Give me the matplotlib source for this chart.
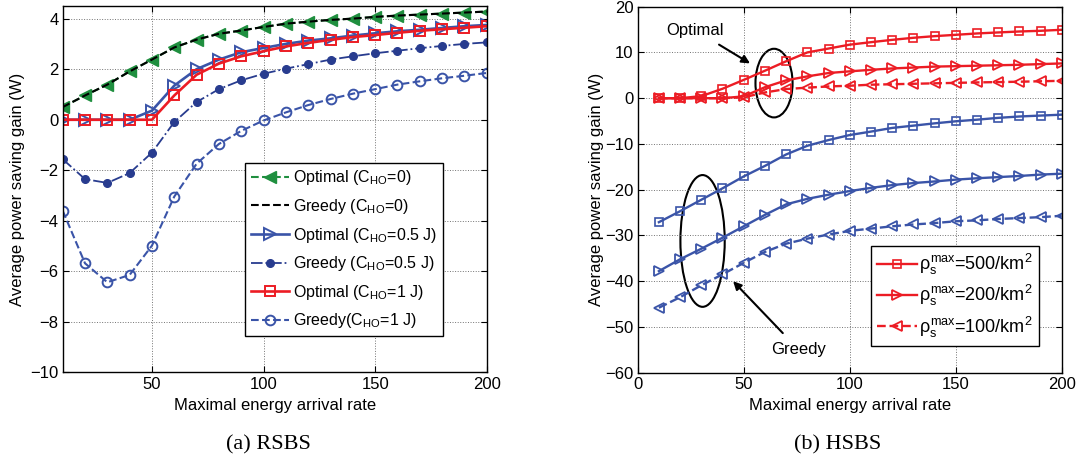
import matplotlib
matplotlib.use("Agg")
import matplotlib.pyplot as plt
from matplotlib.patches import Ellipse
import numpy as np

plt.rcParams["font.family"] = ["Liberation Sans", "DejaVu Sans"]
plt.rcParams["font.size"] = 12
plt.rcParams["mathtext.fontset"] = "custom"
plt.rcParams["mathtext.rm"] = "Liberation Sans"
plt.rcParams["mathtext.it"] = "Liberation Sans"
plt.rcParams["mathtext.bf"] = "Liberation Sans:bold"

x = np.arange(10, 201, 10)

# (a) RSBS
opt_c0 = [0.5, 0.96, 1.39, 1.91, 2.38, 2.86, 3.17, 3.4, 3.53, 3.67,
          3.8, 3.88, 3.95, 4.0, 4.07, 4.12, 4.16, 4.2, 4.24, 4.28]
greedy_c0 = opt_c0
opt_c05 = [0, 0, 0, 0, 0.36, 1.35, 2.0, 2.38, 2.67, 2.84,
           3.0, 3.13, 3.22, 3.33, 3.42, 3.5, 3.56, 3.63, 3.7, 3.75]
greedy_c05 = [-1.56, -2.35, -2.5, -2.11, -1.3, -0.09, 0.7, 1.21, 1.56, 1.82,
              2.02, 2.2, 2.38, 2.51, 2.63, 2.73, 2.83, 2.92, 3.0, 3.06]
opt_c1 = [0, 0, 0, 0, 0, 0.96, 1.78, 2.22, 2.51, 2.71,
          2.9, 3.04, 3.16, 3.27, 3.35, 3.44, 3.52, 3.58, 3.64, 3.7]
greedy_c1 = [-3.6, -5.68, -6.43, -6.14, -4.98, -3.04, -1.74, -0.96, -0.44, -0.03,
             0.29, 0.58, 0.82, 1.03, 1.21, 1.39, 1.52, 1.64, 1.74, 1.85]

# (b) HSBS
opt_500 = [0, 0, 0.45, 2.06, 4.0, 6.0, 8.07, 10.0, 10.85, 11.7,
           12.24, 12.75, 13.2, 13.56, 13.85, 14.15, 14.37, 14.58, 14.73, 14.95]
opt_200 = [0, 0, 0, 0, 0.4, 2.4, 3.9, 4.77, 5.5, 5.87,
           6.2, 6.5, 6.7, 6.9, 7.0, 7.1, 7.2, 7.3, 7.45, 7.6]
opt_100 = [0, 0, 0, 0, 0.2, 1.25, 2.0, 2.3, 2.57, 2.72,
           2.95, 3.05, 3.15, 3.25, 3.35, 3.45, 3.52, 3.6, 3.7, 3.8]
gr_500 = [-27.1, -24.7, -22.2, -19.7, -17.1, -14.8, -12.3, -10.4, -9.15, -8.05,
          -7.3, -6.5, -6.0, -5.5, -5.05, -4.7, -4.3, -4.0, -3.8, -3.6]
gr_200 = [-37.8, -35.2, -32.9, -30.5, -28.0, -25.5, -23.2, -22.0, -21.1, -20.3,
          -19.6, -19.0, -18.55, -18.2, -17.8, -17.5, -17.25, -17.0, -16.7, -16.5]
gr_100 = [-45.8, -43.5, -40.9, -38.5, -36.0, -33.6, -31.8, -30.7, -29.8, -29.0,
          -28.5, -28.0, -27.6, -27.3, -26.9, -26.7, -26.4, -26.2, -26.0, -25.7]

GREEN = "#1f8f3f"
BLUE = "#3a54a8"
DBLUE = "#283c8f"
RED = "#ec1c24"


def style(ax, ylab_x):
    ax.grid(True, linestyle=":", color="0.45", linewidth=0.7)
    ax.tick_params(direction="in", top=True, right=True, length=4, labelsize=12, pad=3)
    for s in ax.spines.values():
        s.set_linewidth(1.0)
    ax.set_xlabel("Maximal energy arrival rate", fontsize=12)
    ax.set_ylabel("Average power saving gain (W)", fontsize=12)
    ax.xaxis.set_label_coords(0.5, -0.07)
    ax.yaxis.set_label_coords(ylab_x, 0.5)


fig = plt.figure(figsize=(10.79, 4.61), dpi=100)
ax1 = fig.add_axes([0.0581, 0.192, 0.393, 0.795])
ax2 = fig.add_axes([0.591, 0.1915, 0.393, 0.794])

ax1.plot(x, opt_c0, "--", color=GREEN, marker="<", ms=8, mfc=GREEN, mec=GREEN,
         lw=1.5, label=r"Optimal (C$_{\mathrm{HO}}$=0)")
ax1.plot(x, greedy_c0, "--", color="k", lw=1.5, label=r"Greedy (C$_{\mathrm{HO}}$=0)")
ax1.plot(x, opt_c05, "-", color=BLUE, marker=">", ms=8, mfc="none", mec=BLUE,
         mew=1.4, lw=1.9, label=r"Optimal (C$_{\mathrm{HO}}$=0.5 J)")
ax1.plot(x, greedy_c05, "-.", color=DBLUE, marker="o", ms=5.5, mfc=DBLUE, mec=DBLUE,
         lw=1.3, label=r"Greedy (C$_{\mathrm{HO}}$=0.5 J)")
ax1.plot(x, opt_c1, "-", color=RED, marker="s", ms=6.5, mfc="none", mec=RED,
         mew=1.4, lw=1.9, label=r"Optimal (C$_{\mathrm{HO}}$=1 J)")
ax1.plot(x, greedy_c1, "--", color=BLUE, marker="o", ms=7, mfc="none", mec=BLUE,
         mew=1.4, lw=1.5, label=r"Greedy(C$_{\mathrm{HO}}$=1 J)")
ax1.set_xlim(10, 200)
ax1.set_ylim(-10, 4.5)
ax1.set_xticks([50, 100, 150, 200])
ax1.set_yticks(np.arange(-10, 5, 2))
style(ax1, -0.089)
leg1 = ax1.legend(loc="lower right", bbox_to_anchor=(0.916, 0.078), fancybox=False,
                  edgecolor="k", framealpha=1, handlelength=2.4, labelspacing=0.6,
                  borderpad=0.35, handletextpad=0.25, fontsize=11.5)
leg1.get_frame().set_linewidth(1.0)

ax2.plot(x, opt_500, "-", color=RED, marker="s", ms=5.5, mfc="none", mec=RED,
         mew=1.2, lw=1.7, label=r"$\rho_s^{max}$=500/km$^2$")
ax2.plot(x, opt_200, "-", color=RED, marker=">", ms=7.5, mfc="none", mec=RED,
         mew=1.3, lw=1.7, label=r"$\rho_s^{max}$=200/km$^2$")
ax2.plot(x, opt_100, "--", color=RED, marker="<", ms=7.5, mfc="none", mec=RED,
         mew=1.3, lw=1.7, label=r"$\rho_s^{max}$=100/km$^2$")
ax2.plot(x, gr_500, "-", color=BLUE, marker="s", ms=5.5, mfc="none", mec=BLUE,
         mew=1.2, lw=1.7)
ax2.plot(x, gr_200, "-", color=BLUE, marker=">", ms=7.5, mfc="none", mec=BLUE,
         mew=1.3, lw=1.7)
ax2.plot(x, gr_100, "--", color=BLUE, marker="<", ms=7.5, mfc="none", mec=BLUE,
         mew=1.3, lw=1.7)
ax2.set_xlim(0, 200)
ax2.set_ylim(-60, 20)
ax2.set_xticks([0, 50, 100, 150, 200])
ax2.set_yticks(np.arange(-60, 21, 10))
style(ax2, -0.0795)
leg2 = ax2.legend(loc="lower right", bbox_to_anchor=(0.968, 0.048), fancybox=False,
                  edgecolor="k", framealpha=1, handlelength=2.2, labelspacing=0.35,
                  borderpad=0.35, handletextpad=0.15, fontsize=13)
leg2.get_frame().set_linewidth(1.0)

ax2.add_patch(Ellipse((64.3, 3.3), 17.5, 15, fill=False, edgecolor="k", lw=1.5))
ax2.add_patch(Ellipse((30.6, -31.2), 20.9, 28.8, fill=False, edgecolor="k", lw=1.5))
ax2.annotate("Optimal", xy=(53, 7.6), xytext=(27, 14.9), ha="center", va="center",
             fontsize=12,
             arrowprops=dict(arrowstyle="-|>", color="k", lw=1.5, shrinkA=6, shrinkB=0))
ax2.annotate("Greedy", xy=(45, -40.0), xytext=(75.8, -54.9), ha="center", va="center",
             fontsize=12,
             arrowprops=dict(arrowstyle="-|>", color="k", lw=1.5, shrinkA=6, shrinkB=0))

fig.text(0.249, 0.035, "(a) RSBS", ha="center", va="center",
         fontfamily="Liberation Serif", fontsize=16)
fig.text(0.776, 0.035, "(b) HSBS", ha="center", va="center",
         fontfamily="Liberation Serif", fontsize=16)

fig.savefig("out.png", dpi=100)
